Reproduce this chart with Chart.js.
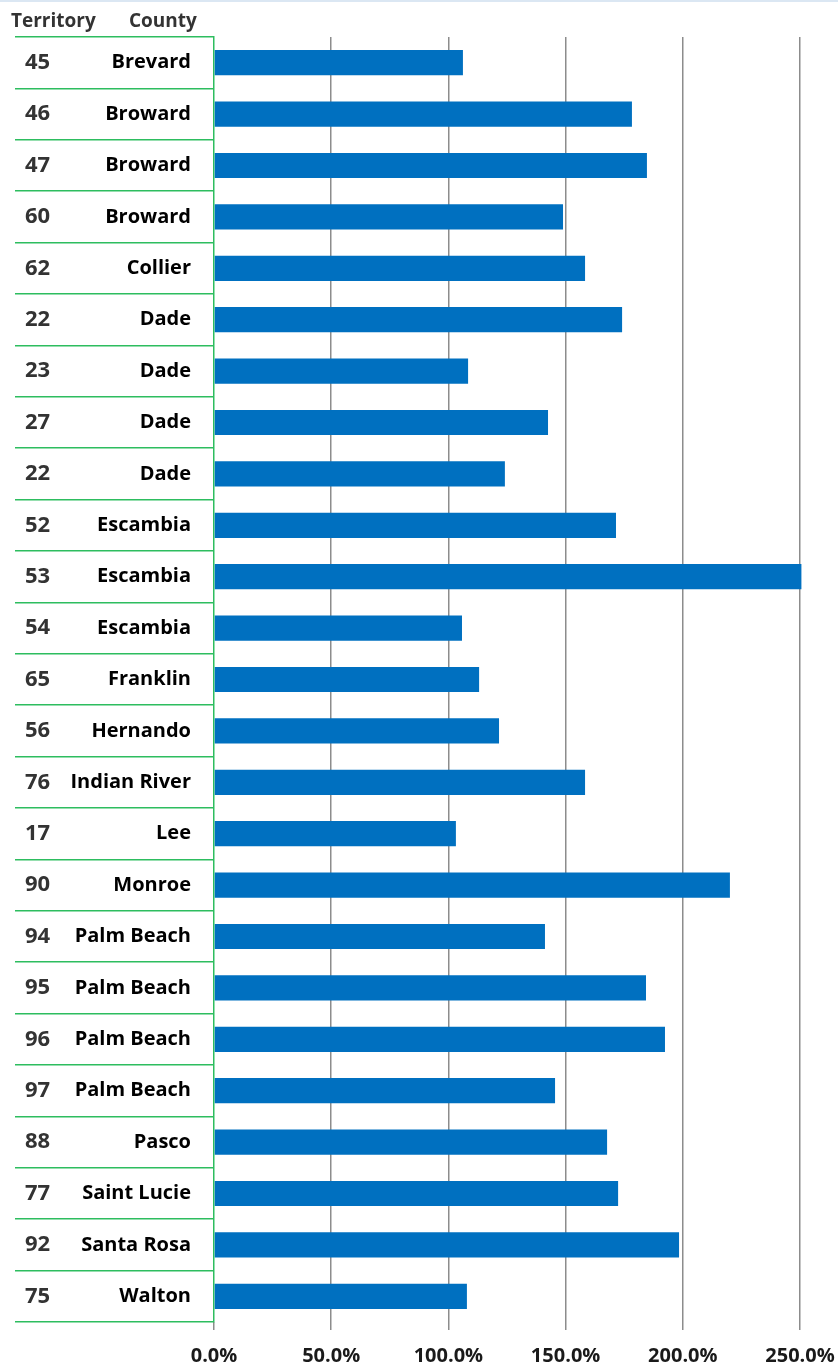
<!DOCTYPE html>
<html>
<head>
<meta charset="utf-8">
<script src="https://cdn.jsdelivr.net/npm/chart.js@4/dist/chart.umd.min.js"></script>
<style>
  html, body { margin: 0; padding: 0; background: #ffffff; }
  #wrap { position: relative; width: 838px; height: 1363px; }
</style>
</head>
<body>
<div id="wrap"><canvas id="c"></canvas></div>
<script>
const territories = ['45','46','47','60','62','22','23','27','22','52','53','54','65','56','76','17','90','94','95','96','97','88','77','92','75'];
const counties = ['Brevard','Broward','Broward','Broward','Collier','Dade','Dade','Dade','Dade','Escambia','Escambia','Escambia','Franklin','Hernando','Indian River','Lee','Monroe','Palm Beach','Palm Beach','Palm Beach','Palm Beach','Pasco','Saint Lucie','Santa Rosa','Walton'];
const values = [106.2, 178.3, 184.7, 148.9, 158.3, 174.1, 108.4, 142.5, 124.1, 171.5, 250.6, 105.8, 113.1, 121.6, 158.3, 103.2, 220.1, 141.2, 184.3, 192.4, 145.5, 167.7, 172.4, 198.4, 107.9];
const headers = ['Territory', 'County'];
const xMin = 0, xMax = 250, xStep = 50;

const FONT = '"Open Sans", "DejaVu Sans", sans-serif';
const GREEN = '#2dbd5f';
const GRAY = '#8c8c8c';

const leftTable = {
  id: 'leftTable',
  afterDraw(chart) {
    const ctx = chart.ctx;
    const y = chart.scales.y;
    ctx.save();
    ctx.strokeStyle = '#dbe7f3';
    ctx.lineWidth = 2;
    ctx.beginPath(); ctx.moveTo(0, 1); ctx.lineTo(chart.width, 1); ctx.stroke();
    ctx.fillStyle = '#333333';
    ctx.font = 'bold 19px ' + FONT;
    ctx.textBaseline = 'middle';
    ctx.textAlign = 'left';
    ctx.fillText(headers[0], 11, 22);
    ctx.fillText(headers[1], 129, 22);
    ctx.font = 'bold 22px ' + FONT;
    ctx.fillStyle = '#333333';
    territories.forEach((t, i) => {
      ctx.fillText(t, 25, y.getPixelForValue(i));
    });
    ctx.restore();
  }
};

new Chart(document.getElementById('c'), {
  type: 'bar',
  data: {
    labels: counties,
    datasets: [{
      data: values,
      backgroundColor: '#0070C0',
      borderWidth: 0,
      categoryPercentage: 1,
      barPercentage: 0.49,
      clip: false
    }]
  },
  options: {
    indexAxis: 'y',
    responsive: true,
    maintainAspectRatio: false,
    animation: false,
    layout: { padding: { left: 0, right: 38, top: 37, bottom: 0 } },
    plugins: { legend: { display: false }, tooltip: { enabled: false } },
    scales: {
      x: {
        min: xMin, max: xMax,
        ticks: {
          stepSize: xStep,
          padding: 14,
          color: '#1a1a1a',
          font: { family: FONT, size: 20, weight: 'bold' },
          callback: v => v.toFixed(1) + '%',
          maxRotation: 0,
          autoSkip: false
        },
        grid: {
          color: ctx => ctx.index === 0 ? 'rgba(0,0,0,0)' : GRAY,
          tickColor: GRAY,
          lineWidth: 1.5,
          tickLength: 8,
          drawTicks: true
        },
        border: { display: false },
        afterFit: s => { s.height = 41; s.paddingLeft = 0; s.paddingRight = 0; }
      },
      y: {
        ticks: {
          padding: -176,
          color: '#000000',
          font: { family: FONT, size: 20, weight: 'bold' },
          autoSkip: false
        },
        grid: {
          drawOnChartArea: false,
          drawTicks: true,
          tickLength: 199,
          color: GREEN,
          tickColor: GREEN,
          lineWidth: 1.5
        },
        border: { display: true, color: GREEN, width: 1.5 },
        afterFit: s => { s.width = 214; s.paddingTop = 0; s.paddingBottom = 0; }
      }
    }
  },
  plugins: [leftTable]
});
</script>
</body>
</html>
